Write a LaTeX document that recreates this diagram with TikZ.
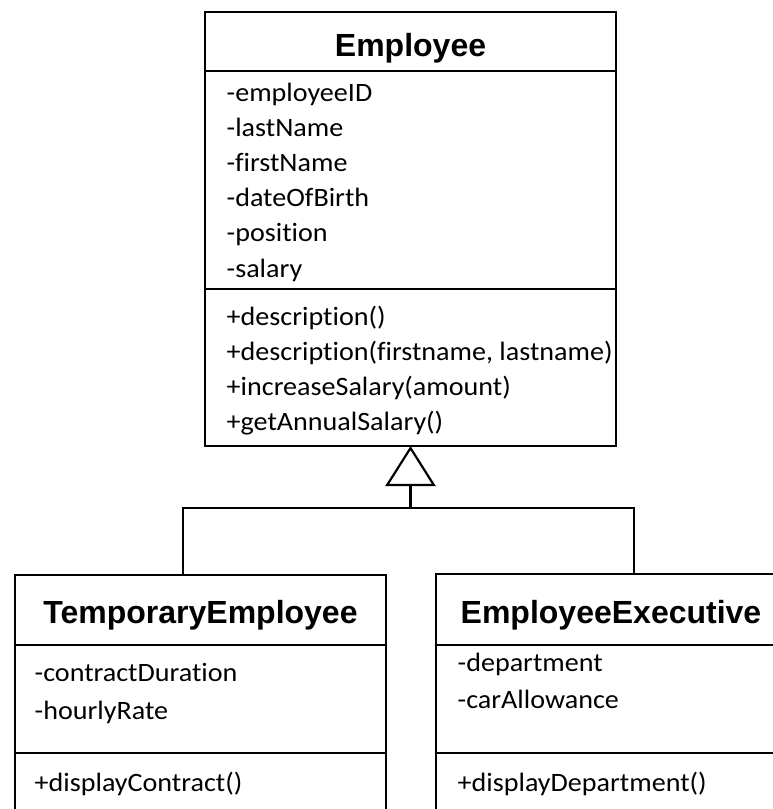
\documentclass[tikz,border=0pt]{standalone}
\usepackage{fontspec}
\setmainfont{Carlito}[Ligatures=NoCommon,FakeStretch=1.06]
\newfontfamily\titlefont{Liberation Sans}
\usetikzlibrary{arrows.meta}
\begin{document}
\begin{tikzpicture}[x=1pt,y=-1pt,
  box/.style={draw,line width=2.6pt,inner sep=0pt,outer sep=0pt,anchor=north west},
  classtitle/.style={anchor=base,inner sep=0pt,font=\titlefont\bfseries\fontsize{32}{38}\selectfont},
  member/.style={anchor=base west,inner sep=0pt,font=\fontsize{26.5}{31}\selectfont},
  sepline/.style={line width=2.6pt},
  link/.style={line width=2.6pt}]
\useasboundingbox (0,0) rectangle (773,809);
\clip (0,0) rectangle (773,809);

% Employee
\node[box,minimum width=411pt,minimum height=434pt] (emp) at (205,12) {};
\node[classtitle] (empT) at (410.5,56.7) {Employee};
\draw[sepline] (205,71) -- (616,71);
\draw[sepline] (205,289) -- (616,289);
\node[member] (e1) at (226.5,101) {-employeeID};
\node[member] (e2) at (226.5,136.2) {-lastName};
\node[member] (e3) at (226.5,171.4) {-firstName};
\node[member] (e4) at (226.5,206.6) {-dateOfBirth};
\node[member] (e5) at (226.5,241.8) {-position};
\node[member] (e6) at (226.5,277) {-salary};
\node[member] (m1) at (226.5,325) {+description()};
\node[member] (m2) at (226.5,360) {+description(firstname, lastname)};
\node[member] (m3) at (226.5,395) {+increaseSalary(amount)};
\node[member] (m4) at (226.5,430) {+getAnnualSalary()};

% TemporaryEmployee
\node[box,minimum width=371pt,minimum height=260pt] (temp) at (15,575) {};
\node[classtitle] (tempT) at (200.5,623.3) {TemporaryEmployee};
\draw[sepline] (15,645) -- (386,645);
\draw[sepline] (15,753) -- (386,753);
\node[member] (t1) at (34.5,681.7) {-contractDuration};
\node[member] (t2) at (34.5,719) {-hourlyRate};
\node[member] (t3) at (34.5,791.7) {+displayContract()};

% EmployeeExecutive
\node[box,minimum width=350pt,minimum height=260pt] (exec) at (436,574) {};
\node[classtitle] (execT) at (611,623.3) {EmployeeExecutive};
\draw[sepline] (436,645) -- (786,645);
\draw[sepline] (436,753) -- (786,753);
\node[member] (x1) at (457.5,671.7) {-department};
\node[member] (x2) at (457.5,708.3) {-carAllowance};
\node[member] (x3) at (457.5,791.7) {+displayDepartment()};

% Generalisation
\coordinate (j) at (410.5,508);
\coordinate (tin) at (183,575);
\coordinate (ein) at (634,574);
\draw[link] (tin) |- (j) -| (ein);
\draw[link,-{Triangle[open,length=40pt,width=50pt,line width=2.2pt]}] (j) -- (emp.south);
\end{tikzpicture}
\end{document}
